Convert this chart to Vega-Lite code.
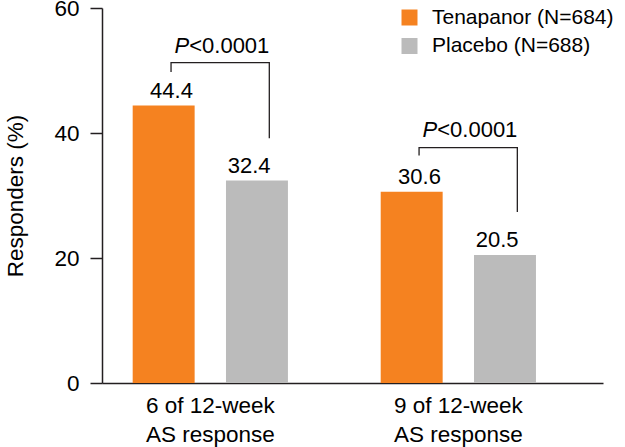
{
  "$schema": "https://vega.github.io/schema/vega-lite/v6.json",
  "width": 501,
  "height": 375,
  "autosize": "none",
  "padding": {"left": 102, "top": 8, "right": 22, "bottom": 64},
  "background": "white",
  "config": {
    "view": {"stroke": null},
    "font": "Liberation Sans",
    "text": {"font": "Liberation Sans"}
  },
  "datasets": {
    "bars": [
      {"group": "6 of 12-week|AS response", "series": "Tenapanor (N=684)", "value": 44.4},
      {"group": "6 of 12-week|AS response", "series": "Placebo (N=688)", "value": 32.4},
      {"group": "9 of 12-week|AS response", "series": "Tenapanor (N=684)", "value": 30.6},
      {"group": "9 of 12-week|AS response", "series": "Placebo (N=688)", "value": 20.5}
    ],
    "brackets": [
      {"group": "6 of 12-week|AS response", "series": "Tenapanor (N=684)", "y": 49.75, "ord": 1},
      {"group": "6 of 12-week|AS response", "series": "Tenapanor (N=684)", "y": 51.26, "ord": 2},
      {"group": "6 of 12-week|AS response", "series": "Placebo (N=688)", "y": 51.26, "ord": 3},
      {"group": "6 of 12-week|AS response", "series": "Placebo (N=688)", "y": 39.15, "ord": 4},
      {"group": "9 of 12-week|AS response", "series": "Tenapanor (N=684)", "y": 36.4, "ord": 1},
      {"group": "9 of 12-week|AS response", "series": "Tenapanor (N=684)", "y": 37.66, "ord": 2},
      {"group": "9 of 12-week|AS response", "series": "Placebo (N=688)", "y": 37.66, "ord": 3},
      {"group": "9 of 12-week|AS response", "series": "Placebo (N=688)", "y": 27.36, "ord": 4}
    ],
    "pvals": [
      {"group": "6 of 12-week|AS response", "y": 52.8, "p": "P", "rest": "<0.0001"},
      {"group": "9 of 12-week|AS response", "y": 39.36, "p": "P", "rest": "<0.0001"}
    ]
  },
  "resolve": {"scale": {"xOffset": "independent"}},
  "layer": [
    {
      "data": {"name": "bars"},
      "mark": {"type": "bar"},
      "encoding": {
        "x": {
          "field": "group", "type": "nominal", "sort": null,
          "scale": {"paddingInner": 0.374, "paddingOuter": 0.197, "align": 0.314},
          "axis": {
            "title": null, "ticks": false, "labelAngle": 0,
            "labelExpr": "split(datum.label, '|')",
            "labelFontSize": 22.5, "labelLineHeight": 29, "labelPadding": 11,
            "labelColor": "#000", "labelLimit": 0,
            "domainColor": "#231F20", "domainWidth": 1.5
          }
        },
        "xOffset": {
          "field": "series", "type": "nominal", "sort": null,
          "scale": {"paddingInner": 0.336, "paddingOuter": 0}
        },
        "y": {
          "field": "value", "type": "quantitative",
          "scale": {"domain": [0, 60], "nice": false},
          "axis": {
            "title": "Responders (%)", "values": [0, 20, 40, 60], "grid": false,
            "tickSize": 12, "tickWidth": 1.5, "tickColor": "#231F20",
            "domainColor": "#231F20", "domainWidth": 1.5,
            "labelFontSize": 22.5, "labelPadding": 11, "labelColor": "#000",
            "titleFontSize": 22.5, "titleFontWeight": "normal", "titleColor": "#000",
            "titlePadding": 26
          }
        },
        "color": {
          "field": "series", "type": "nominal", "sort": null,
          "scale": {"domain": ["Tenapanor (N=684)", "Placebo (N=688)"], "range": ["#F58220", "#BBBBBB"]},
          "legend": {
            "title": null, "orient": "none", "legendX": 297, "legendY": -1,
            "symbolType": "square", "symbolSize": 256, "symbolStrokeWidth": 0,
            "labelFontSize": 21, "labelColor": "#000", "labelOffset": 12,
            "rowPadding": 6.5, "padding": 0, "labelLimit": 0
          }
        }
      }
    },
    {
      "data": {"name": "bars"},
      "mark": {"type": "text", "baseline": "alphabetic", "dy": -8, "fontSize": 22, "color": "#000"},
      "encoding": {
        "x": {"field": "group", "type": "nominal", "sort": null},
        "xOffset": {"field": "series", "type": "nominal", "sort": null},
        "y": {"field": "value", "type": "quantitative"},
        "text": {"field": "value", "type": "quantitative", "format": ".1f"}
      }
    },
    {
      "data": {"name": "brackets"},
      "mark": {"type": "line", "color": "#231F20", "strokeWidth": 1.3, "interpolate": "linear"},
      "encoding": {
        "x": {"field": "group", "type": "nominal", "sort": null},
        "xOffset": {
          "field": "series", "type": "nominal",
          "scale": {"type": "point", "domain": ["Tenapanor (N=684)", "Placebo (N=688)"], "padding": 0.29, "align": 0.673}
        },
        "y": {"field": "y", "type": "quantitative"},
        "order": {"field": "ord", "type": "quantitative"},
        "detail": {"field": "group", "type": "nominal"}
      }
    },
    {
      "data": {"name": "pvals"},
      "mark": {"type": "text", "align": "right", "baseline": "alphabetic", "fontSize": 22, "fontStyle": "italic", "color": "#000"},
      "encoding": {
        "x": {"field": "group", "type": "nominal", "sort": null, "bandPosition": 0.364},
        "y": {"field": "y", "type": "quantitative"},
        "text": {"field": "p"}
      }
    },
    {
      "data": {"name": "pvals"},
      "mark": {"type": "text", "align": "left", "baseline": "alphabetic", "fontSize": 22, "color": "#000"},
      "encoding": {
        "x": {"field": "group", "type": "nominal", "sort": null, "bandPosition": 0.364},
        "y": {"field": "y", "type": "quantitative"},
        "text": {"field": "rest"}
      }
    }
  ]
}
